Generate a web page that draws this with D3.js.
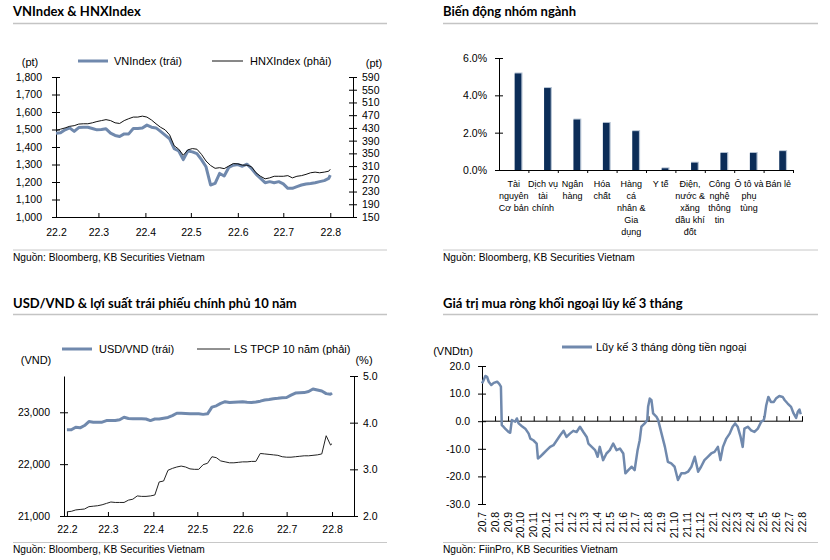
<!DOCTYPE html>
<html><head><meta charset="utf-8">
<script src="https://cdn.jsdelivr.net/npm/d3@7"></script>
<style>
body{margin:0;background:#fff}
svg text{font-family:"Liberation Sans",Arial,sans-serif;fill:#000}
</style></head><body>
<svg id="c" width="830" height="560"></svg>
<script>
// ---------------- DATA ----------------
const dates1 = ["2022-02-01","2022-02-04","2022-02-07","2022-02-10","2022-02-13","2022-02-16","2022-02-19","2022-02-22","2022-02-25","2022-02-28",
"2022-03-03","2022-03-06","2022-03-09","2022-03-12","2022-03-15","2022-03-18","2022-03-21","2022-03-24","2022-03-27","2022-03-30",
"2022-04-02","2022-04-05","2022-04-08","2022-04-11","2022-04-14","2022-04-17","2022-04-20","2022-04-23","2022-04-26","2022-04-29",
"2022-05-02","2022-05-05","2022-05-08","2022-05-11","2022-05-14","2022-05-17","2022-05-20","2022-05-23","2022-05-26","2022-05-29",
"2022-06-01","2022-06-04","2022-06-07","2022-06-10","2022-06-13","2022-06-16","2022-06-19","2022-06-22","2022-06-25","2022-06-28",
"2022-07-01","2022-07-04","2022-07-07","2022-07-10","2022-07-13","2022-07-16","2022-07-19","2022-07-22","2022-07-25","2022-07-28",
"2022-07-31","2022-08-01"];

const vnIndex = [1479,1481,1498,1509,1489,1511,1513,1513,1506,1498,
1500,1504,1479,1466,1460,1475,1475,1506,1506,1508,
1525,1513,1509,1489,1468,1447,1390,1377,1328,1377,
1372,1362,1328,1287,1183,1192,1249,1234,1283,1296,
1300,1290,1302,1277,1245,1221,1196,1202,1196,1202,
1189,1164,1164,1174,1183,1189,1192,1196,1202,1208,
1221,1239];

const hnxIndex = [422,426,430,435,437,442,443,443,446,450,
453,456,453,446,444,453,459,464,464,467,
464,455,443,432,424,408,374,363,344,361,
365,363,347,326,312,303,305,302,310,318,
317,313,313,308,289,278,270,273,278,278,
278,280,273,278,280,284,289,291,289,291,
294,300];

const usdVnd = [22662,22662,22713,22700,22745,22822,22810,22810,22810,22840,
22840,22840,22855,22904,22880,22875,22875,22875,22870,22840,
22870,22870,22885,22900,22936,22981,22981,22975,22970,22970,
22970,22960,22970,23100,23125,23173,23205,23190,23195,23200,
23205,23195,23190,23200,23215,23237,23245,23260,23269,23280,
23285,23330,23370,23378,23380,23400,23449,23430,23410,23360,
23350,23370];

const bondYield = [2.09,2.10,2.13,2.14,2.15,2.20,2.21,2.22,2.24,2.27,
2.30,2.29,2.29,2.29,2.34,2.36,2.43,2.42,2.42,2.43,
2.45,2.73,2.75,2.98,3.02,3.05,3.07,3.05,3.01,3.00,
3.00,3.10,3.13,3.27,3.25,3.18,3.16,3.14,3.14,3.15,
3.16,3.16,3.17,3.17,3.34,3.33,3.32,3.31,3.30,3.27,
3.26,3.26,3.27,3.28,3.29,3.29,3.30,3.31,3.33,3.72,
3.52,3.55];

const sectorLabels = [["Tài","nguyên","Cơ bản"],["Dịch vụ","tài","chính"],["Ngân","hàng"],["Hóa","chất"],
["Hàng","cá","nhân &","Gia","dụng"],["Y tế"],["Điện,","nước &","xăng","dầu khí","đốt"],
["Công","nghệ","thông","tin"],["Ô tô và","phụ","tùng"],["Bán lẻ"]];
const sectorChange = [5.17,4.39,2.70,2.52,2.08,0.09,0.39,0.91,0.91,1.01];

const flowDates = ["2020-07-01","2020-07-05","2020-07-09","2020-07-13","2020-07-17","2020-07-23","2020-07-29","2020-08-06","2020-08-11","2020-08-15",
"2020-08-17","2020-08-21","2020-08-25","2020-09-02","2020-09-06","2020-09-10","2020-09-18","2020-09-22","2020-09-26","2020-10-04",
"2020-10-12","2020-10-20","2020-10-24","2020-10-31","2020-11-08","2020-11-11","2020-11-16","2020-11-24","2020-12-02","2020-12-10",
"2020-12-18","2020-12-26","2021-01-03","2021-01-11","2021-01-18","2021-01-26","2021-02-03","2021-02-11","2021-02-19","2021-02-27",
"2021-03-07","2021-03-11","2021-03-19","2021-03-27","2021-04-02","2021-04-07","2021-04-15","2021-04-23","2021-05-01","2021-05-09",
"2021-05-17","2021-05-25","2021-06-02","2021-06-07","2021-06-14","2021-06-22","2021-06-29","2021-07-06","2021-07-11","2021-07-15",
"2021-07-23","2021-07-29","2021-07-31","2021-08-04","2021-08-08","2021-08-12","2021-08-20","2021-08-24","2021-09-01","2021-09-09",
"2021-09-16","2021-09-24","2021-10-02","2021-10-10","2021-10-18","2021-10-26","2021-11-03","2021-11-11","2021-11-19","2021-11-27",
"2021-12-04","2021-12-12","2021-12-20","2021-12-28","2022-01-05","2022-01-13","2022-01-19","2022-01-25","2022-02-02","2022-02-10",
"2022-02-17","2022-02-23","2022-03-01","2022-03-08","2022-03-13","2022-03-17","2022-03-25","2022-04-02","2022-04-10","2022-04-18",
"2022-04-26","2022-05-02","2022-05-04","2022-05-08","2022-05-13","2022-05-19","2022-05-26","2022-05-31","2022-06-08","2022-06-16",
"2022-06-21","2022-06-28","2022-07-06","2022-07-12","2022-07-18","2022-07-22","2022-07-26","2022-07-29"];
const flowValues = [13.7,14.9,16.4,16.1,14.3,13.1,13.9,14.3,13.5,12.5,
-1.4,-2.0,-2.7,-3.9,-4.2,0.4,-0.2,1.0,-0.8,-1.8,
-2.7,-4.5,-6.3,-6.9,-8.1,-13.5,-12.9,-11.7,-10.5,-9.3,
-8.7,-6.9,-5.1,-3.5,-5.7,-4.5,-3.5,-3.9,-2.0,-3.9,
-5.7,-8.1,-9.3,-10.5,-12.9,-9.3,-14.1,-11.7,-10.5,-8.1,
-10.5,-9.9,-11.7,-18.9,-17.7,-16.5,-17.7,-10.5,-6.9,-2.0,
-0.8,0.4,5.2,8.2,7.6,2.8,1.6,0.4,-4.5,-9.3,
-14.7,-15.3,-16.5,-21.3,-18.9,-18.9,-18.3,-16.5,-12.9,-18.3,
-16.5,-14.1,-12.9,-11.7,-11.1,-9.3,-14.1,-9.3,-6.3,-4.5,
-2.0,-0.8,-2.0,-5.7,-9.3,-2.7,-2.0,-3.3,-3.9,-2.7,
-0.2,0.4,1.6,5.8,8.8,7.0,7.0,8.2,9.1,8.8,
7.6,6.4,5.2,2.8,1.2,3.4,4.2,2.5];

const vnTicks = [1000,1100,1200,1300,1400,1500,1600,1700,1800];
const hnxTicks = [150,190,230,270,310,350,390,430,470,510,550,590];
const usdTicks = [21000,22000,23000];
const yieldTicks = [2,3,4,5];
const sectorTicks = [0,2,4,6];
const flowTicks = [-30,-20,-10,0,10,20];

// ---------------- HELPERS ----------------
const parse = d3.timeParse("%Y-%m-%d");
const svg = d3.select("#c");
const FONT = '"Liberation Sans",Arial,sans-serif';
const BLUE = "#7089ad";
const AX = 10.5;   // axis label size
const monthFmt = d3.timeFormat("%y.%-m");

function styleAxis(g, fs) {
  g.attr("font-family", null).attr("font-size", null);
  g.selectAll("path.domain").attr("stroke", "#000").attr("stroke-width", 1);
  g.selectAll(".tick line").attr("stroke", "#000").attr("stroke-width", 1);
  g.selectAll("text").attr("fill", "#000").style("font-family", FONT).style("font-size", (fs || AX) + "px");
}
function crossY(g, len) { g.selectAll(".tick line").attr("x1", -len).attr("x2", len); }

function frame(x0, x1, title, titleY, ruleY, srcRuleY, srcY, src) {
  svg.append("text").attr("x", x0).attr("y", titleY).text(title)
    .style("font-family", "Lato, 'Open Sans', sans-serif").style("font-weight", "bold").style("font-size", "13px");
  svg.append("line").attr("x1", x0).attr("x2", x1).attr("y1", ruleY).attr("y2", ruleY)
    .attr("stroke", "#c4c4c4").attr("stroke-width", 1.5);
  svg.append("line").attr("x1", x0).attr("x2", x1).attr("y1", srcRuleY).attr("y2", srcRuleY)
    .attr("stroke", "#c8c8c8").attr("stroke-width", 1);
  svg.append("text").attr("x", x0).attr("y", srcY).text(src).style("font-size", "10.2px");
}

frame(13, 387, "VNIndex & HNXIndex", 16, 23.5, 250, 260.5, "Nguồn: Bloomberg, KB Securities Vietnam");
frame(443, 818, "Biến động nhóm ngành", 16, 23.5, 250, 260.5, "Nguồn: Bloomberg, KB Securities Vietnam");
frame(13, 387, "USD/VND & lợi suất trái phiếu chính phủ 10 năm", 307.5, 314.5, 542.5, 552.5, "Nguồn: Bloomberg, KB Securities Vietnam");
frame(443, 818, "Giá trị mua ròng khối ngoại lũy kế 3 tháng", 307.5, 314.5, 542.5, 552.5, "Nguồn: FiinPro, KB Securities Vietnam");

// ---------------- CHART 1 ----------------
(function () {
  const x = d3.scaleTime().domain([parse("2022-02-01"), parse("2022-08-16")]).range([56, 353]);
  const yL = d3.scaleLinear().domain([1000, 1800]).range([217, 77]);
  const yR = d3.scaleLinear().domain([150, 590]).range([217, 77]);
  const g = svg.append("g");

  const gx = g.append("g").attr("transform", "translate(0,217)")
    .call(d3.axisBottom(x).ticks(d3.timeMonth.every(1)).tickFormat(monthFmt).tickSizeInner(-4).tickSizeOuter(0).tickPadding(12));
  styleAxis(gx);
  gx.selectAll(".tick").filter(d => +d > +parse("2022-08-01")).remove();

  const gl = g.append("g").attr("transform", "translate(56,0)")
    .call(d3.axisLeft(yL).tickValues(vnTicks).tickFormat(d3.format(",")).tickSizeInner(4).tickSizeOuter(0).tickPadding(10));
  styleAxis(gl); crossY(gl, 4);

  const gr = g.append("g").attr("transform", "translate(353,0)")
    .call(d3.axisRight(yR).tickValues(hnxTicks).tickSizeInner(4).tickSizeOuter(0).tickPadding(5));
  styleAxis(gr); crossY(gr, 4);

  const dts = dates1.map(parse);
  g.append("path").datum(vnIndex.map((v, i) => [dts[i], v]))
    .attr("fill", "none").attr("stroke", BLUE).attr("stroke-width", 3).attr("stroke-linejoin", "round")
    .attr("d", d3.line().x(d => x(d[0])).y(d => yL(d[1])));
  g.append("path").datum(hnxIndex.map((v, i) => [dts[i], v]))
    .attr("fill", "none").attr("stroke", "#111").attr("stroke-width", 1)
    .attr("d", d3.line().x(d => x(d[0])).y(d => yR(d[1])));

  // legend
  g.append("line").attr("x1", 78).attr("x2", 108).attr("y1", 61).attr("y2", 61).attr("stroke", BLUE).attr("stroke-width", 3);
  g.append("text").attr("x", 114).attr("y", 65).text("VNIndex (trái)").style("font-size", "11px");
  g.append("line").attr("x1", 212).attr("x2", 243).attr("y1", 61).attr("y2", 61).attr("stroke", "#111").attr("stroke-width", 1);
  g.append("text").attr("x", 250).attr("y", 65).text("HNXIndex (phải)").style("font-size", "11px");
  g.append("text").attr("x", 30).attr("y", 66).attr("text-anchor", "middle").text("(pt)").style("font-size", "11px");
  g.append("text").attr("x", 374).attr("y", 67).attr("text-anchor", "middle").text("(pt)").style("font-size", "11px");
})();

// ---------------- CHART 2 ----------------
(function () {
  const x = d3.scaleBand().domain(d3.range(sectorChange.length)).range([499, 793]).padding(0);
  const y = d3.scaleLinear().domain([0, 6]).range([170, 58]);
  const g = svg.append("g");
  const bw = x.bandwidth();

  const gl = g.append("g").attr("transform", "translate(499,0)")
    .call(d3.axisLeft(y).tickValues(sectorTicks).tickFormat(d => d.toFixed(1) + "%").tickSizeInner(4).tickSizeOuter(0).tickPadding(8));
  styleAxis(gl); crossY(gl, 4);

  g.selectAll("rect.edge").data(sectorChange).join("rect").attr("class", "edge")
    .attr("x", (d, i) => x(i) + bw / 2 + 1).attr("width", 7.8)
    .attr("y", d => y(d) - 1).attr("height", d => y(0) - y(d) + 1).attr("fill", "#b3c1d2");
  g.selectAll("rect.bar").data(sectorChange).join("rect").attr("class", "bar")
    .attr("x", (d, i) => x(i) + bw / 2 + 1).attr("width", 6.6)
    .attr("y", d => y(d)).attr("height", d => y(0) - y(d)).attr("fill", "#0c2d58");

  const xb = d3.scaleLinear().domain([0, sectorChange.length]).range([499, 793]);
  const gx = g.append("g").attr("transform", "translate(0,170)")
    .call(d3.axisBottom(xb).tickValues(d3.range(1, sectorChange.length + 1)).tickFormat("").tickSizeInner(3).tickSizeOuter(0));
  styleAxis(gx);

  sectorLabels.forEach((lines, i) => {
    const t = g.append("text").attr("text-anchor", "middle").style("font-size", "9px");
    lines.forEach((s, k) => t.append("tspan").attr("x", x(i) + bw / 2).attr("y", 187 + k * 12).text(s));
  });
})();

// ---------------- CHART 3 ----------------
(function () {
  const x = d3.scaleTime().domain([parse("2022-01-30"), parse("2022-08-16")]).range([64, 354]);
  const yL = d3.scaleLinear().domain([21000, 23700]).range([516, 376]);
  const yR = d3.scaleLinear().domain([2, 5]).range([516, 376]);
  const g = svg.append("g");

  const gx = g.append("g").attr("transform", "translate(0,516)")
    .call(d3.axisBottom(x).ticks(d3.timeMonth.every(1)).tickFormat(monthFmt).tickSizeInner(-4).tickSizeOuter(0).tickPadding(10));
  styleAxis(gx);
  gx.selectAll(".tick").filter(d => +d > +parse("2022-08-01")).remove();

  const gl = g.append("g").attr("transform", "translate(64,0)")
    .call(d3.axisLeft(yL).tickValues(usdTicks).tickFormat(d3.format(",")).tickSizeInner(4).tickSizeOuter(0).tickPadding(10));
  styleAxis(gl); crossY(gl, 4);

  const gr = g.append("g").attr("transform", "translate(354,0)")
    .call(d3.axisRight(yR).tickValues(yieldTicks).tickFormat(d3.format(".1f")).tickSizeInner(4).tickSizeOuter(0).tickPadding(5));
  styleAxis(gr); crossY(gr, 4);

  const dts = dates1.map(parse);
  g.append("path").datum(usdVnd.map((v, i) => [dts[i], v]))
    .attr("fill", "none").attr("stroke", BLUE).attr("stroke-width", 3).attr("stroke-linejoin", "round")
    .attr("d", d3.line().x(d => x(d[0])).y(d => yL(d[1])));
  g.append("path").datum(bondYield.map((v, i) => [dts[i], v]))
    .attr("fill", "none").attr("stroke", "#222").attr("stroke-width", 1)
    .attr("d", d3.line().x(d => x(d[0])).y(d => yR(d[1])));

  g.append("line").attr("x1", 62).attr("x2", 92).attr("y1", 349).attr("y2", 349).attr("stroke", BLUE).attr("stroke-width", 3);
  g.append("text").attr("x", 99).attr("y", 353).text("USD/VND (trái)").style("font-size", "11px");
  g.append("line").attr("x1", 197).attr("x2", 230).attr("y1", 349).attr("y2", 349).attr("stroke", "#222").attr("stroke-width", 1);
  g.append("text").attr("x", 234).attr("y", 353).text("LS TPCP 10 năm (phải)").style("font-size", "11px");
  g.append("text").attr("x", 36).attr("y", 364).attr("text-anchor", "middle").text("(VND)").style("font-size", "11px");
  g.append("text").attr("x", 364).attr("y", 364).attr("text-anchor", "middle").text("(%)").style("font-size", "11px");
})();

// ---------------- CHART 4 ----------------
(function () {
  const x = d3.scaleTime().domain([parse("2020-07-01"), parse("2022-08-01")]).range([482, 802]);
  const y = d3.scaleLinear().domain([-30, 20]).range([504, 366]);
  const g = svg.append("g");

  const gl = g.append("g").attr("transform", "translate(482,0)")
    .call(d3.axisLeft(y).tickValues(flowTicks).tickFormat(d => d.toFixed(1)).tickSizeInner(4).tickSizeOuter(0).tickPadding(8));
  styleAxis(gl); crossY(gl, 4);

  const months = d3.timeMonth.range(parse("2020-07-01"), parse("2022-08-02"));
  const gx = g.append("g").attr("transform", "translate(0," + y(0) + ")")
    .call(d3.axisBottom(x).tickValues(months).tickFormat("").tickSizeInner(-5).tickSizeOuter(0));
  styleAxis(gx);
  gx.select("path.domain").attr("d", "M482,0H803");

  g.selectAll("text.mlab").data(months).join("text").attr("class", "mlab")
    .attr("text-anchor", "end")
    .attr("transform", d => "translate(" + x(d) + ",512) rotate(-90)")
    .attr("dy", "0.35em").text(d => monthFmt(d)).style("font-size", AX + "px");

  const dts = flowDates.map(parse);
  g.append("path").datum(flowValues.map((v, i) => [dts[i], v]))
    .attr("fill", "none").attr("stroke", BLUE).attr("stroke-width", 2.5).attr("stroke-linejoin", "round")
    .attr("d", d3.line().x(d => x(d[0])).y(d => y(d[1])));

  g.append("line").attr("x1", 562).attr("x2", 592).attr("y1", 347).attr("y2", 347).attr("stroke", BLUE).attr("stroke-width", 3);
  g.append("text").attr("x", 596).attr("y", 351).text("Lũy kế 3 tháng dòng tiền ngoại").style("font-size", "11px");
  g.append("text").attr("x", 453).attr("y", 355).attr("text-anchor", "middle").text("(VNDtn)").style("font-size", "11px");
})();
</script>
</body></html>
